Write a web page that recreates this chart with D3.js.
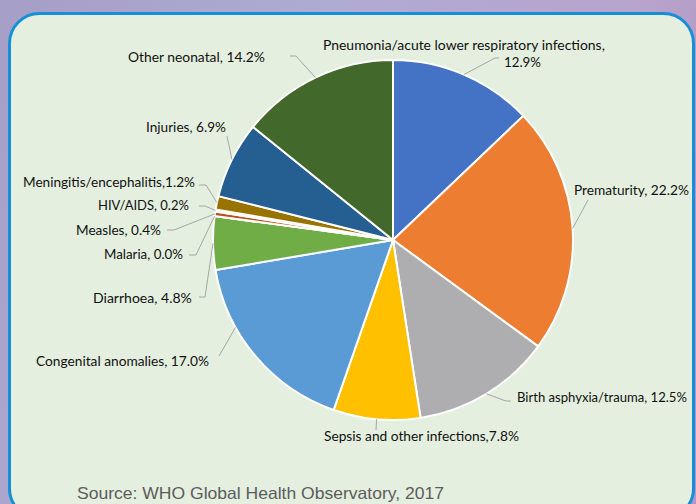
<!DOCTYPE html>
<html><head><meta charset="utf-8">
<script src="https://cdn.jsdelivr.net/npm/d3@7"></script>
<style>html,body{margin:0;padding:0;overflow:hidden;background:#aaa4cb}</style>
</head><body>
<svg id="chart" width="696" height="504"></svg>
<script>
// ---- data ----
const categories = ["Pneumonia/acute lower respiratory infections","Prematurity","Birth asphyxia/trauma","Sepsis and other infections","Congenital anomalies","Diarrhoea","Malaria","Measles","HIV/AIDS","Meningitis/encephalitis","Injuries","Other neonatal"];
const values = [12.9, 22.2, 12.5, 7.8, 17.0, 4.8, 0.0, 0.4, 0.2, 1.2, 6.9, 14.2];
const labelTexts = [
  ["Pneumonia/acute lower respiratory infections,", "12.9%"],
  ["Prematurity, 22.2%"],
  ["Birth asphyxia/trauma, 12.5%"],
  ["Sepsis and other infections,7.8%"],
  ["Congenital anomalies, 17.0%"],
  ["Diarrhoea, 4.8%"],
  ["Malaria, 0.0%"],
  ["Measles, 0.4%"],
  ["HIV/AIDS, 0.2%"],
  ["Meningitis/encephalitis,1.2%"],
  ["Injuries, 6.9%"],
  ["Other neonatal, 14.2%"]
];
const colors = ["#4472c4","#ed7d31","#aeaeb0","#ffc000","#5b9bd5","#70ad47","#264478","#c0501a","#f2f2f2","#997300","#255e91","#43682b"];
const sourceText = "Source: WHO Global Health Observatory, 2017";

// ---- layout (label placement, not data) ----
const layout = [
  {lines:[{x:323,y:50,w:282},{x:504,y:67,w:37}], pts:[[495,58],[499,58]]},
  {lines:[{x:574,y:195,w:115}], pts:[[588,200]]},
  {lines:[{x:517,y:402,w:170}], pts:[[506,401],[511,401]]},
  {lines:[{x:324,y:441,w:195}], pts:[[376,430]]},
  {lines:[{x:36,y:366,w:173}], pts:[[219,356]], angle:241},
  {lines:[{x:93,y:303,w:99}], pts:[[205,297],[199,297]]},
  {lines:[{x:104,y:259,w:79}], pts:[[196,255],[189,255]]},
  {lines:[{x:76,y:235,w:85}], pts:[[174,230],[167,230]]},
  {lines:[{x:98,y:210,w:91}], pts:[[205,206],[199,206]]},
  {lines:[{x:23,y:187,w:172}], pts:[[206,185],[199,185]]},
  {lines:[{x:146,y:132,w:80}], pts:[[227,136]]},
  {lines:[{x:128,y:62,w:137}], pts:[[296,56],[290,56]]}
];

const svg = d3.select("#chart");
const W = 696, H = 504;

// background gradient
const defs = svg.append("defs");
const bg = defs.append("linearGradient").attr("id","bg").attr("x1","0").attr("y1","0").attr("x2","1").attr("y2","0.3");
bg.append("stop").attr("offset","0").attr("stop-color","#a59fc7");
bg.append("stop").attr("offset","0.45").attr("stop-color","#b0abd2");
bg.append("stop").attr("offset","0.85").attr("stop-color","#b7a4cd");
bg.append("stop").attr("offset","1").attr("stop-color","#b497c4");
svg.append("rect").attr("width",W).attr("height",H).attr("fill","url(#bg)");

// panel
svg.append("rect").attr("x",9.5).attr("y",13.5).attr("width",684).attr("height",505)
  .attr("rx",30).attr("ry",30).attr("fill","#e4efdf").attr("stroke","#1590d8").attr("stroke-width",3);

// pie
const cx = 393, cy = 240, R = 180;
const pie = d3.pie().sort(null).value(d => d).startAngle(0).endAngle(2*Math.PI);
const arcs = pie(values);
const arc = d3.arc().innerRadius(0).outerRadius(R);
const g = svg.append("g").attr("transform",`translate(${cx},${cy})`);
g.selectAll("path.slice").data(arcs).join("path").attr("class","slice")
  .attr("d",arc).attr("fill",(d,i)=>colors[i]).attr("stroke","#ffffff").attr("stroke-width",2).attr("stroke-linejoin","round");

// leader lines
const line = d3.line();
arcs.forEach((a,i)=>{
  const L = layout[i];
  const ang = L.angle !== undefined ? L.angle*Math.PI/180 : (a.startAngle+a.endAngle)/2;
  const sx = cx + R*Math.sin(ang), sy = cy - R*Math.cos(ang);
  svg.append("path").attr("d", line([[sx,sy], ...L.pts]))
    .attr("fill","none").attr("stroke","#a6a6a6").attr("stroke-width",1);
});

// labels: shrink font when natural width exceeds target, else stretch with textLength
const baseFs = 14.5;
arcs.forEach((a,i)=>{
  const L = layout[i];
  labelTexts[i].forEach((t,j)=>{
    const ln = L.lines[j];
    const tx = svg.append("text").attr("x",ln.x).attr("y",ln.y)
      .attr("font-family","Lato, 'Open Sans', sans-serif").attr("font-size",baseFs)
      .attr("fill","#111111").text(t);
    const w0 = tx.node().getComputedTextLength();
    if (w0 > ln.w) {
      tx.attr("font-size", baseFs*ln.w/w0);
    } else {
      tx.attr("textLength",ln.w).attr("lengthAdjust","spacingAndGlyphs");
    }
  });
});

// source
const src = svg.append("text").attr("x",77).attr("y",499).attr("font-family","'Liberation Sans', Arial, sans-serif")
  .attr("font-size",16.5).attr("fill","#5c5c5c").text(sourceText);
const sw = src.node().getComputedTextLength();
if (sw > 367) src.attr("font-size",16.5*367/sw); else src.attr("textLength",367).attr("lengthAdjust","spacingAndGlyphs");
</script>
</body></html>
